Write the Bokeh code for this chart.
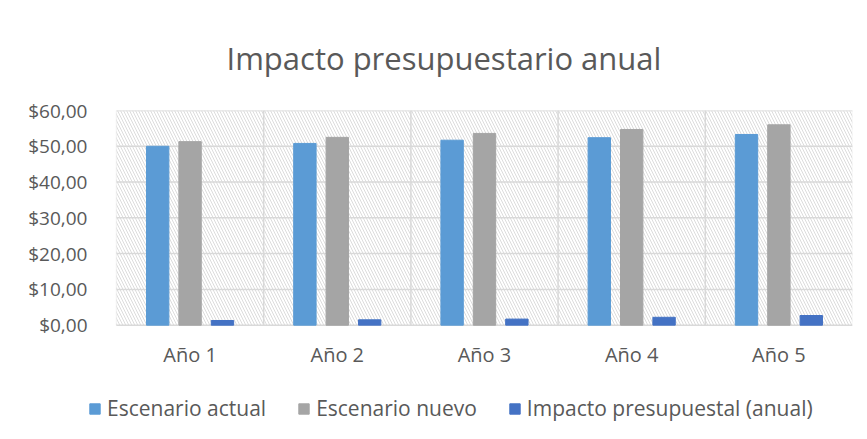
import numpy as np
from bokeh.plotting import figure
from bokeh.models import ColumnDataSource, FixedTicker, BoxAnnotation, Legend, LegendItem
from bokeh.embed import file_html
from bokeh.resources import INLINE

categories = ["Año 1", "Año 2", "Año 3", "Año 4", "Año 5"]
escenario_actual = [50.0, 50.8, 51.7, 52.4, 53.3]
escenario_nuevo = [51.3, 52.5, 53.6, 54.7, 56.0]
impacto = [1.3, 1.5, 1.7, 2.2, 2.7]
y_ticks = [0, 10, 20, 30, 40, 50, 60]
y_labels = ["$0,00", "$10,00", "$20,00", "$30,00", "$40,00", "$50,00", "$60,00"]
series_names = ["Escenario actual", "Escenario nuevo", "Impacto presupuestal (anual)"]
colors = ["#5B9BD5", "#A5A5A5", "#4472C4"]

FONT = "Open Sans"
TXT = "#595959"
GRID = "#d9d9d9"
N = len(categories)
YMAX = y_ticks[-1]

idx = np.arange(N)
src = ColumnDataSource(dict(
    x_a=idx + 0.5 - 0.22, x_n=idx + 0.5, x_i=idx + 0.5 + 0.22,
    a=escenario_actual, n=escenario_nuevo, i=impacto,
))

# frame extends left of and below the plotting area so the legend can sit inside it
p = figure(frame_width=764, frame_height=322, output_backend="svg", toolbar_location=None,
           x_range=(-0.19, N), y_range=(-30, YMAX),
           min_border_left=88, min_border_right=15, min_border_top=110, min_border_bottom=0)
p.outline_line_color = None
p.xgrid.visible = False
p.ygrid.visible = False

# hatched plot area with its border
p.add_layout(BoxAnnotation(left=0, right=N, bottom=0, top=YMAX,
                           fill_color="white", fill_alpha=0, line_color=GRID, line_width=1.5,
                           hatch_pattern="\\", hatch_color="#dcdcdc", hatch_scale=6,
                           hatch_weight=1, level="underlay"))

# gridlines limited to the plotting area
p.segment(x0=[0] * len(y_ticks), x1=[N] * len(y_ticks), y0=y_ticks, y1=y_ticks,
          line_color=GRID, line_width=1.5)
p.segment(x0=list(range(1, N)), x1=list(range(1, N)), y0=[0] * (N - 1), y1=[YMAX] * (N - 1),
          line_color=GRID, line_width=1.5)

r1 = p.vbar(x="x_a", top="a", width=0.152, source=src, color=colors[0])
r2 = p.vbar(x="x_n", top="n", width=0.152, source=src, color=colors[1])
r3 = p.vbar(x="x_i", top="i", width=0.152, source=src, color=colors[2])

p.xaxis.ticker = FixedTicker(ticks=list(idx + 0.5))
p.xaxis.major_label_overrides = {float(t): c for t, c in zip(idx + 0.5, categories)}
p.xaxis.fixed_location = 0
p.yaxis.ticker = FixedTicker(ticks=y_ticks)
p.yaxis.major_label_overrides = {t: l for t, l in zip(y_ticks, y_labels)}
for ax in (p.xaxis[0], p.yaxis[0]):
    ax.axis_line_color = None
    ax.major_tick_line_color = None
    ax.minor_tick_line_color = None
    ax.major_label_text_font = FONT
    ax.major_label_text_color = TXT
p.xaxis.major_label_text_font_size = "20px"
p.yaxis.major_label_text_font_size = "19px"
p.xaxis.major_label_standoff = 10
p.yaxis.major_label_standoff = -5

legend = Legend(items=[LegendItem(label=n, renderers=[r]) for n, r in zip(series_names, [r1, r2, r3])],
                orientation="horizontal", location=(0, 10),
                label_text_font=FONT, label_text_font_size="21px", label_text_color=TXT,
                glyph_width=13, glyph_height=13, label_standoff=6, spacing=31,
                border_line_color=None, background_fill_alpha=0, margin=0, padding=0)
p.add_layout(legend, "center")

p.title.text = "Impacto presupuestario anual"
p.title.align = "left"
p.title.offset = 138
p.title.text_font = FONT
p.title.text_font_size = "31px"
p.title.text_font_style = "normal"
p.title.text_color = TXT
try:
    p.title.standoff = 64
except Exception:
    pass

open("out.html", "w").write(file_html(p, INLINE))
